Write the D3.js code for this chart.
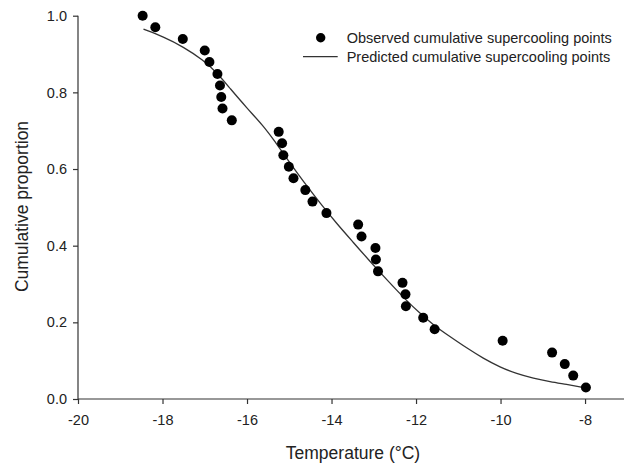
<!DOCTYPE html>
<meta charset="utf-8">
<style>
  body { margin: 0; background: #fff; }
  text { font-family: Arial, "Liberation Sans", sans-serif; fill: #222; }
</style>
<script src="https://d3js.org/d3.v7.min.js"></script>
<svg id="chart" width="624" height="465"></svg>
<script>

    // observed points (temperature, cumulative proportion)
    var obsTemp = [-18.47, -18.17, -17.52, -17.0, -16.89, -16.70, -16.64, -16.61, -16.58, -16.36,
                   -15.25, -15.17, -15.14, -15.01, -14.90, -14.62, -14.45, -14.12, -13.37, -13.29,
                   -12.96, -12.95, -12.90, -12.32, -12.25, -12.24, -11.83, -11.56, -9.95, -8.78,
                   -8.48, -8.28, -7.98];
    var obsProp = [1.000, 0.970, 0.939, 0.909, 0.879, 0.848, 0.818, 0.788, 0.758, 0.727,
                   0.697, 0.667, 0.636, 0.606, 0.576, 0.545, 0.515, 0.485, 0.455, 0.424,
                   0.394, 0.364, 0.333, 0.303, 0.273, 0.242, 0.212, 0.182, 0.152, 0.121,
                   0.091, 0.061, 0.030];

    // fitted curve
    var predTemp = [-18.45, -17.98, -17.51, -17.03, -16.72, -16.40, -16.01, -15.61, -15.36, -14.98,
                    -14.67, -14.27, -13.88, -13.48, -13.13, -12.70, -12.22, -11.91, -11.59, -11.20,
                    -10.80, -10.41, -10.01, -9.62, -9.22, -8.83, -8.43, -8.08, -7.98];
    var predProp = [0.965, 0.945, 0.919, 0.884, 0.852, 0.810, 0.760, 0.712, 0.675, 0.615,
                    0.568, 0.511, 0.458, 0.408, 0.364, 0.312, 0.256, 0.224, 0.193, 0.163,
                    0.133, 0.106, 0.083, 0.066, 0.054, 0.045, 0.038, 0.031, 0.029];

    var xTicks = [-20, -18, -16, -14, -12, -10, -8];
    var yTicks = [0.0, 0.2, 0.4, 0.6, 0.8, 1.0];

    const svg = d3.select("#chart");

    const x = d3.scaleLinear().domain([-20, -7]).range([78, 627.3]);
    const y = d3.scaleLinear().domain([0, 1]).range([399, 15.7]);

    const axisColor = "#333";

    // x axis
    const gx = svg.append("g")
        .attr("transform", "translate(0," + y(0) + ")")
        .call(d3.axisBottom(x).tickValues(xTicks).tickSize(5).tickPadding(11)
            .tickFormat(d => String(d)));
    // y axis
    const gy = svg.append("g")
        .attr("transform", "translate(" + x(-20) + ",0)")
        .call(d3.axisLeft(y).tickValues(yTicks).tickSize(5).tickPadding(6)
            .tickFormat(d => d.toFixed(1)));

    [gx, gy].forEach(g => {
        g.select(".domain").attr("stroke", axisColor).attr("stroke-width", 1.2);
        g.selectAll(".tick line").attr("stroke", axisColor).attr("stroke-width", 1.2);
        g.selectAll(".tick text")
            .style("font-family", "Arial, 'Liberation Sans', sans-serif")
            .style("font-size", "14.5px")
            .attr("fill", "#222");
    });
    gx.select(".domain").attr("d", "M" + x(-20) + ",0H" + x(-7));
    gy.select(".domain").attr("d", "M0," + y(0) + "V" + y(1));

    // axis titles
    svg.append("text")
        .attr("x", 353)
        .attr("y", 459)
        .attr("text-anchor", "middle")
        .style("font-size", "17.5px")
        .text("Temperature (°C)");

    svg.append("text")
        .attr("transform", "translate(28,206.5) rotate(-90)")
        .attr("text-anchor", "middle")
        .style("font-size", "17.5px")
        .text("Cumulative proportion");

    // predicted curve
    const line = d3.line()
        .x((d, i) => x(predTemp[i]))
        .y((d, i) => y(predProp[i]))
        .curve(d3.curveBasis);

    svg.append("path")
        .datum(predTemp)
        .attr("d", line)
        .attr("fill", "none")
        .attr("stroke", "#333")
        .attr("stroke-width", 1.3);

    // observed points
    svg.append("g")
        .selectAll("circle")
        .data(obsTemp)
        .enter().append("circle")
            .attr("cx", (d) => x(d))
            .attr("cy", (d, i) => y(obsProp[i]))
            .attr("r", 5)
            .attr("fill", "#000");

    // legend
    const legend = svg.append("g");
    legend.append("circle")
        .attr("cx", 320.7).attr("cy", 37.7).attr("r", 4.7).attr("fill", "#000");
    legend.append("text")
        .attr("x", 346.7).attr("y", 42.7)
        .style("font-size", "14.5px")
        .text("Observed cumulative supercooling points");
    legend.append("line")
        .attr("x1", 303).attr("x2", 337.7)
        .attr("y1", 56.7).attr("y2", 56.7)
        .attr("stroke", "#333").attr("stroke-width", 1.3);
    legend.append("text")
        .attr("x", 346.7).attr("y", 61.7)
        .style("font-size", "14.5px")
        .text("Predicted cumulative supercooling points");

</script>
